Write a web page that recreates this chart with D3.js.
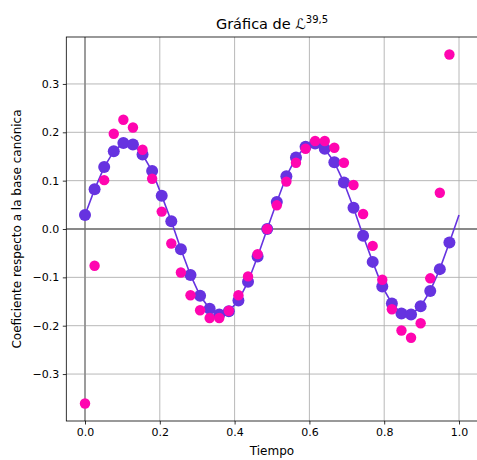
<!DOCTYPE html>
<html>
<head>
<meta charset="utf-8">
<script src="https://cdn.jsdelivr.net/npm/d3@7/dist/d3.min.js"></script>
<style>
  html, body { margin: 0; padding: 0; background: #fff; }
  svg { display: block; font-family: "DejaVu Sans", sans-serif; }
</style>
</head>
<body>
<svg id="chart" width="477" height="460"></svg>
<script>
// Sample times: 39 equally spaced points on [0, 1)
const nPoints = 39;
const times = d3.range(nPoints).map(k => k / nPoints);

// Coefficients of the reconstructed curve (purple) at each sample time
const curveValues = [
  0.029, 0.082, 0.128, 0.161, 0.178, 0.175, 0.154, 0.120, 0.069, 0.016,
  -0.042, -0.095, -0.138, -0.165, -0.177, -0.170, -0.148, -0.109, -0.057, 0.000,
  0.056, 0.109, 0.148, 0.170, 0.177, 0.166, 0.138, 0.096, 0.044, -0.014,
  -0.068, -0.119, -0.154, -0.175, -0.177, -0.160, -0.128, -0.083, -0.028
];
// Curve closes periodically at t = 1
const curveEnd = { t: 1.0, v: 0.029 };

// Coefficients in the canonical basis (pink)
const canonicalValues = [
  -0.361, -0.076, 0.101, 0.197, 0.226, 0.210, 0.164, 0.104, 0.036, -0.030,
  -0.090, -0.137, -0.168, -0.184, -0.184, -0.169, -0.137, -0.098, -0.052, 0.000,
  0.049, 0.098, 0.137, 0.166, 0.182, 0.182, 0.168, 0.137, 0.091, 0.031,
  -0.035, -0.105, -0.166, -0.210, -0.225, -0.195, -0.102, 0.075, 0.361
];

const xTicks = [0.0, 0.2, 0.4, 0.6, 0.8, 1.0];
const yTicks = [-0.3, -0.2, -0.1, 0.0, 0.1, 0.2, 0.3];

const titleMain = "Gráfica de ";
const titleSymbol = "\u2112";
const titleSup = "39,5";
const xLabel = "Tiempo";
const yLabel = "Coeficiente respecto a la base canónica";

const purple = "#6633e0";
const pink = "#ff05b0";

const svg = d3.select("#chart");
const margin = { left: 66.3, right: 477.7, top: 37, bottom: 421 };

const x = d3.scaleLinear().domain([-0.05, 1.05]).range([margin.left, margin.right]);
const yMax = 0.361 * 1.1;
const y = d3.scaleLinear().domain([-yMax, yMax]).range([margin.bottom, margin.top]);

const fmt = v => (v < 0 ? "\u2212" : "") + Math.abs(v).toFixed(1);

// Clip region for the plotting area
svg.append("defs").append("clipPath").attr("id", "plotClip")
  .append("rect")
  .attr("x", margin.left).attr("y", margin.top)
  .attr("width", margin.right - margin.left).attr("height", margin.bottom - margin.top);

// Grid
const grid = svg.append("g").attr("clip-path", "url(#plotClip)");
grid.selectAll("line.gx").data(xTicks).join("line")
  .attr("x1", d => x(d)).attr("x2", d => x(d))
  .attr("y1", margin.top).attr("y2", margin.bottom)
  .attr("stroke", "#b0b0b0").attr("stroke-width", 0.9);
grid.selectAll("line.gy").data(yTicks).join("line")
  .attr("y1", d => y(d)).attr("y2", d => y(d))
  .attr("x1", margin.left).attr("x2", margin.right)
  .attr("stroke", "#b0b0b0").attr("stroke-width", 0.9);

// Reference lines at t = 0 and coefficient = 0
grid.append("line")
  .attr("x1", x(0)).attr("x2", x(0)).attr("y1", margin.top).attr("y2", margin.bottom)
  .attr("stroke", "#8c8c8c").attr("stroke-width", 1.6);
grid.append("line")
  .attr("x1", margin.left).attr("x2", margin.right).attr("y1", y(0)).attr("y2", y(0))
  .attr("stroke", "#6e6e6e").attr("stroke-width", 1.4);

// Curve
const plot = svg.append("g").attr("clip-path", "url(#plotClip)");
const curvePts = times.map((t, i) => ({ t, v: curveValues[i] })).concat([curveEnd]);
plot.append("path")
  .datum(curvePts)
  .attr("fill", "none")
  .attr("stroke", purple)
  .attr("stroke-width", 1.6)
  .attr("d", d3.line().x(d => x(d.t)).y(d => y(d.v)));

plot.selectAll("circle.curve").data(times.map((t, i) => ({ t, v: curveValues[i] })))
  .join("circle")
  .attr("cx", d => x(d.t)).attr("cy", d => y(d.v)).attr("r", 6)
  .attr("fill", purple);

plot.selectAll("circle.canon").data(times.map((t, i) => ({ t, v: canonicalValues[i] })))
  .join("circle")
  .attr("cx", d => x(d.t)).attr("cy", d => y(d.v)).attr("r", 5.2)
  .attr("fill", pink);

// Axes
const xAxis = svg.append("g").attr("transform", `translate(0,${margin.bottom})`)
  .call(d3.axisBottom(x).tickValues(xTicks).tickFormat(fmt).tickSize(3.5).tickPadding(3.5));
const yAxis = svg.append("g").attr("transform", `translate(${margin.left},0)`)
  .call(d3.axisLeft(y).tickValues(yTicks).tickFormat(fmt).tickSize(3.5).tickPadding(3.5));
[xAxis, yAxis].forEach(a => {
  a.select(".domain").remove();
  a.selectAll("text").attr("font-size", 11).attr("fill", "#000")
    .attr("font-family", "DejaVu Sans, sans-serif");
  a.selectAll("line").attr("stroke", "#000").attr("stroke-width", 0.8);
});

// Frame
svg.append("rect")
  .attr("x", margin.left).attr("y", margin.top)
  .attr("width", margin.right - margin.left).attr("height", margin.bottom - margin.top)
  .attr("fill", "none").attr("stroke", "#000").attr("stroke-width", 0.8);

// Labels
svg.append("text")
  .attr("x", (margin.left + margin.right) / 2).attr("y", 455)
  .attr("text-anchor", "middle").attr("font-size", 12).text(xLabel);

svg.append("text")
  .attr("transform", `translate(21,${(margin.top + margin.bottom) / 2}) rotate(-90)`)
  .attr("text-anchor", "middle").attr("font-size", 12).text(yLabel);

const title = svg.append("text")
  .attr("x", (margin.left + margin.right) / 2).attr("y", 29)
  .attr("text-anchor", "middle").attr("font-size", 14.5);
title.append("tspan").text(titleMain);
title.append("tspan").attr("font-style", "italic").text(titleSymbol);
title.append("tspan").attr("font-size", 10).attr("dy", -6).text(titleSup);
</script>
</body>
</html>
